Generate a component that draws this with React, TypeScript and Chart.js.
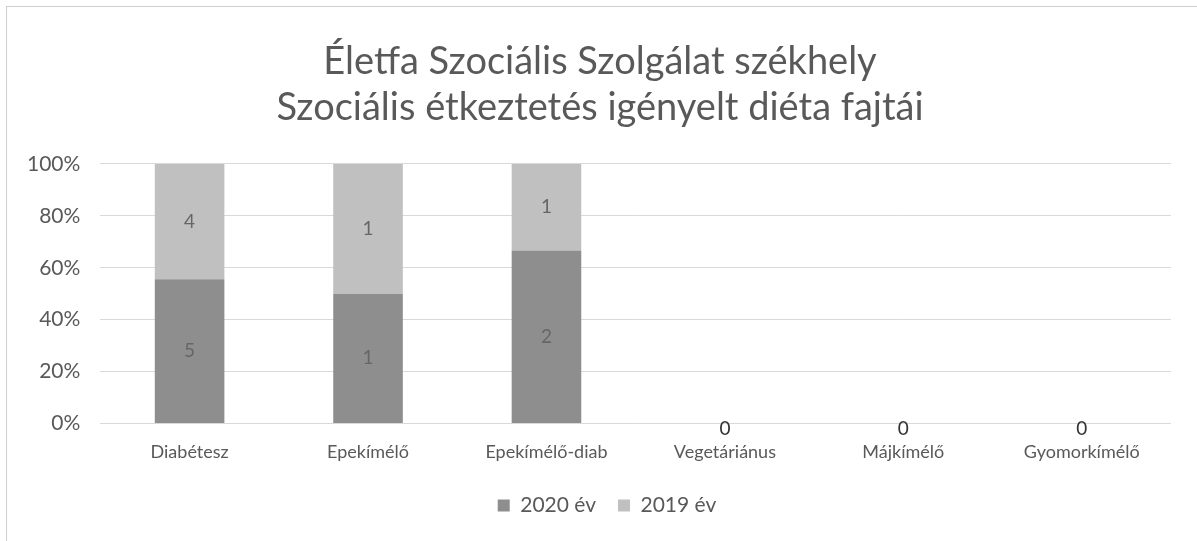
import React, { useEffect, useRef } from "react";
import { Chart, registerables } from "chart.js";

Chart.register(...registerables);

const categories = ["Diabétesz", "Epekímélő", "Epekímélő-diab", "Vegetáriánus", "Májkímélő", "Gyomorkímélő"];
const values2020 = [5, 1, 2, 0, 0, 0];
const values2019 = [4, 1, 1, 0, 0, 0];
const seriesNames = ["2020 év", "2019 év"];
const titleLines = ["Életfa Szociális Szolgálat székhely", "Szociális étkeztetés igényelt diéta fajtái"];
const FONT = "Lato, 'Open Sans', sans-serif";

function toPercent(a: number[], b: number[], which: number[]) {
  return which.map((v, i) => {
    const t = a[i] + b[i];
    return t === 0 ? 0 : (v / t) * 100;
  });
}

const labelPlugin = {
  id: "valueLabels",
  afterLayout(chart: any) {
    if (chart.titleBlock) {
      chart.titleBlock.left += 11;
      chart.titleBlock.right += 11;
    }
    if (chart.legend) {
      chart.legend.left += 18;
      chart.legend.right += 18;
    }
  },
  afterDatasetsDraw(chart: any) {
    const ctx = chart.ctx;
    const counts = [values2020, values2019];
    ctx.save();
    ctx.textAlign = "center";
    ctx.textBaseline = "middle";
    ctx.font = `19px ${FONT}`;
    chart.data.datasets.forEach((ds: any, di: number) => {
      const meta = chart.getDatasetMeta(di);
      meta.data.forEach((el: any, i: number) => {
        const c = counts[di][i];
        if (c > 0) {
          ctx.fillStyle = "#666666";
          ctx.fillText(String(c), el.x, (el.y + el.base) / 2);
        }
      });
    });
    const meta0 = chart.getDatasetMeta(0);
    const yScale = chart.scales.y;
    meta0.data.forEach((el: any, i: number) => {
      if (values2020[i] + values2019[i] === 0) {
        ctx.fillStyle = "#333333";
        ctx.fillText("0", el.x, yScale.getPixelForValue(0) + 5);
      }
    });
    ctx.restore();
  },
};

export default function App() {
  const ref = useRef<HTMLCanvasElement | null>(null);
  useEffect(() => {
    document.body.style.margin = "0";
    if (!ref.current) return;
    const chart = new Chart(ref.current, {
      type: "bar",
      data: {
        labels: categories,
        datasets: [
          {
            label: seriesNames[0],
            data: toPercent(values2020, values2019, values2020),
            backgroundColor: "#8e8e8e",
            barPercentage: 0.39,
            categoryPercentage: 1,
          },
          {
            label: seriesNames[1],
            data: toPercent(values2020, values2019, values2019),
            backgroundColor: "#c0c0c0",
            barPercentage: 0.39,
            categoryPercentage: 1,
          },
        ],
      },
      options: {
        animation: false,
        responsive: false,
        layout: { padding: { left: 0, right: 26, top: 20, bottom: 15 } },
        plugins: {
          title: {
            display: true,
            text: titleLines,
            color: "#595959",
            font: { family: FONT, size: 38, weight: "normal" as any, lineHeight: 1.21 },
            padding: { top: 12, bottom: 33 },
          },
          legend: {
            position: "bottom",
            labels: {
              color: "#595959",
              font: { family: FONT, size: 21 },
              boxWidth: 12,
              boxHeight: 12,
              padding: 22,
            },
          },
          tooltip: { enabled: false },
        },
        scales: {
          x: {
            stacked: true,
            grid: { display: false },
            border: { display: false },
            ticks: { color: "#595959", font: { family: FONT, size: 18 }, padding: 10 },
          },
          y: {
            stacked: true,
            min: 0,
            max: 100,
            grid: { color: "#d9d9d9", drawTicks: false },
            border: { display: false },
            ticks: {
              stepSize: 20,
              color: "#595959",
              font: { family: FONT, size: 21 },
              padding: 20,
              callback: (v: any) => v + "%",
            },
          },
        },
      },
      plugins: [labelPlugin],
    });
    return () => chart.destroy();
  }, []);
  return (
    <div style={{ position: "relative", width: 1197, height: 541, borderTop: "1px solid #cfcfcf", borderLeft: "1px solid #cfcfcf", boxSizing: "border-box", marginLeft: 6, marginTop: 6 }}>
      <canvas ref={ref} width={1190} height={534} style={{ display: "block" }} />
    </div>
  );
}
